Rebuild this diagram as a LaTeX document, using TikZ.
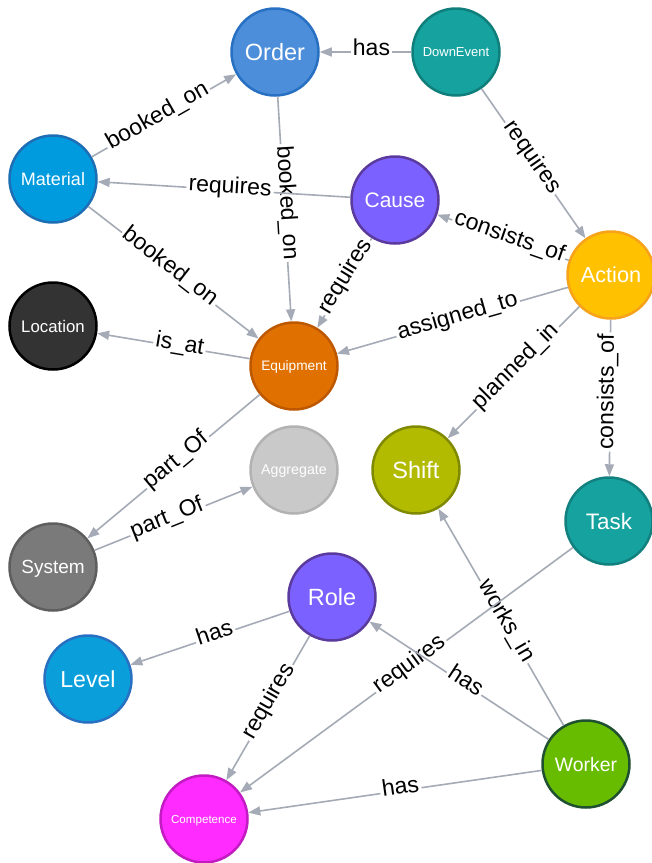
\documentclass[tikz,border=0pt]{standalone}
\usepackage{fontspec}
\setmainfont{Liberation Sans}
\usetikzlibrary{arrows.meta,calc}
\definecolor{edgegray}{HTML}{A5ABB6}
\tikzset{
  nd/.style={circle, minimum size=87pt, inner sep=0pt, line width=2.5pt, text=white, text depth=0pt},
  elab/.style={sloped, font=\fontsize{23}{24}\selectfont, text=black, inner xsep=2pt, inner ysep=0pt, text height=0.9em, text depth=0.2em},
  edge/.style={draw=edgegray, line width=1.6pt},
  arr/.style={edge, -{Triangle[length=12pt,width=9pt]}}
}
\newcommand\myedge[4]{%
  \path (#1) -- (#2) coordinate[pos=0] (es) coordinate[pos=1] (et);
  \path (es) -- node[elab] (#3) {#4} ($(et)!12pt!(es)$);
  \draw[edge] (#1) -- (#3);
  \draw[arr] (#3) -- (#2);
}
\begin{document}
\begin{tikzpicture}[x=1pt,y=-1pt]
\clip (0,0) rectangle (652,863);
\fill[white] (0,0) rectangle (652,863);
% nodes
\node[nd, fill={rgb,255:red,76;green,142;blue,218}, draw={rgb,255:red,40;green,112;blue,194}, font=\fontsize{23.5}{24}\selectfont] (order) at (275,52) {Order};
\node[nd, fill={rgb,255:red,22;green,163;blue,160}, draw={rgb,255:red,16;green,126;blue,123}, font=\fontsize{13}{14}\selectfont] (down) at (456,52) {DownEvent};
\node[nd, fill={rgb,255:red,0;green,155;blue,222}, draw={rgb,255:red,30;green,110;blue,181}, font=\fontsize{18}{19}\selectfont] (material) at (53,179) {Material};
\node[nd, fill={rgb,255:red,123;green,97;blue,255}, draw={rgb,255:red,91;green,58;blue,158}, font=\fontsize{21}{22}\selectfont] (cause) at (395,200) {Cause};
\node[nd, fill={rgb,255:red,255;green,193;blue,0}, draw={rgb,255:red,247;green,162;blue,27}, font=\fontsize{21.7}{22}\selectfont] (action) at (611,275) {Action};
\node[nd, fill={rgb,255:red,51;green,51;blue,51}, draw=black, font=\fontsize{16.8}{18}\selectfont] (location) at (53,326) {Location};
\node[nd, fill={rgb,255:red,224;green,112;blue,0}, draw={rgb,255:red,190;green,88;blue,0}, font=\fontsize{13.7}{14}\selectfont] (equip) at (294,366) {Equipment};
\node[nd, fill={rgb,255:red,201;green,201;blue,201}, draw={rgb,255:red,178;green,178;blue,178}, font=\fontsize{14.2}{15}\selectfont] (aggr) at (294,470) {Aggregate};
\node[nd, fill={rgb,255:red,179;green,187;blue,0}, draw={rgb,255:red,128;green,138;blue,0}, font=\fontsize{23.5}{24}\selectfont] (shift) at (416,470) {Shift};
\node[nd, fill={rgb,255:red,22;green,163;blue,160}, draw={rgb,255:red,17;green,128;blue,126}, font=\fontsize{22.4}{23}\selectfont] (task) at (609,521) {Task};
\node[nd, fill={rgb,255:red,122;green,122;blue,122}, draw={rgb,255:red,94;green,94;blue,94}, font=\fontsize{19}{20}\selectfont] (system) at (53,567) {System};
\node[nd, fill={rgb,255:red,123;green,97;blue,255}, draw={rgb,255:red,91;green,58;blue,158}, font=\fontsize{23.5}{24}\selectfont] (role) at (332,597) {Role};
\node[nd, fill={rgb,255:red,10;green,158;blue,219}, draw={rgb,255:red,40;green,112;blue,194}, font=\fontsize{23.1}{24}\selectfont] (level) at (88,679) {Level};
\node[nd, fill={rgb,255:red,104;green,188;blue,0}, draw={rgb,255:red,31;green,81;blue,48}, font=\fontsize{19.4}{20}\selectfont] (worker) at (586,764) {Worker};
\node[nd, fill={rgb,255:red,255;green,43;blue,255}, draw={rgb,255:red,194;green,27;blue,194}, font=\fontsize{11.6}{12}\selectfont] (comp) at (204,819) {Competence};
% edges
\myedge{down}{order}{l1}{has}
\myedge{material}{order}{l2}{booked\_on}
\myedge{order}{equip}{l3}{booked\_on}
\myedge{cause}{material}{l4}{requires}
\myedge{down}{action}{l5}{requires}
\myedge{action}{cause}{l6}{consists\_of}
\myedge{material}{equip}{l7}{booked\_on}
\myedge{cause}{equip}{l8}{requires}
\myedge{equip}{location}{l9}{is\_at}
\myedge{action}{equip}{l10}{assigned\_to}
\myedge{action}{shift}{l11}{planned\_in}
\myedge{action}{task}{l12}{consists\_of}
\myedge{equip}{system}{l13}{part\_Of}
\myedge{system}{aggr}{l14}{part\_Of}
\myedge{worker}{shift}{l15}{works\_in}
\myedge{task}{comp}{l16}{requires}
\myedge{role}{level}{l17}{has}
\myedge{role}{comp}{l18}{requires}
\myedge{worker}{role}{l19}{has}
\myedge{worker}{comp}{l20}{has}
\end{tikzpicture}
\end{document}
